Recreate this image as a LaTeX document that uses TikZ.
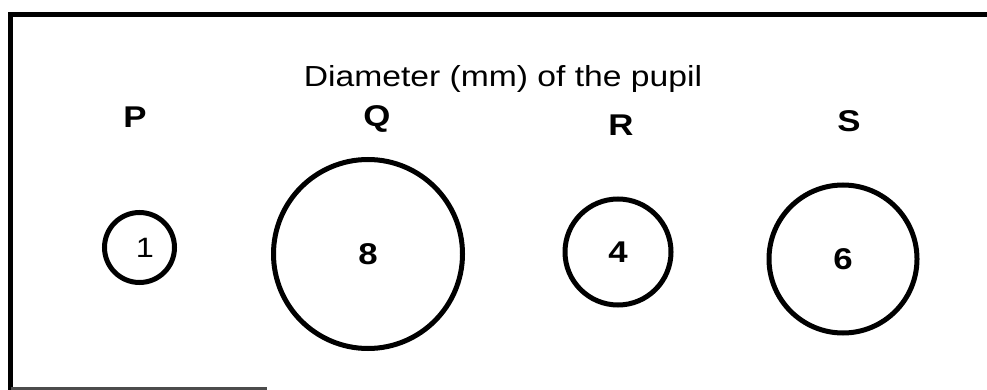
\documentclass[tikz,border=0pt]{standalone}
\usepackage{fontspec}
\setmainfont{Liberation Sans}[FakeStretch=1.16]
\usepackage{tikz}
\tikzset{
pupil/.style={
draw,
circle,
line width=5pt,
inner sep=0pt,
font=\fontsize{30}{36}\selectfont\bfseries
},
letter/.style={
anchor=base,
font=\fontsize{30}{36}\selectfont\bfseries
},
frame/.style={
line width=5pt
}
}

\begin{document}
\begin{tikzpicture}[x=1pt,y=-1pt]
\useasboundingbox (0,0) rectangle (987,390);
\draw[frame](987,15)--(10.5,15)--(10.5,390);
\draw[line width=3pt,black!70](10.5,388.5)--(267,388.5);

\node[anchor=base,font=\fontsize{29}{35}\selectfont](title) at (503,87){Diameter (mm) of the pupil};

\node[pupil,minimum size=70pt,font=\fontsize{28}{34}\selectfont](p) at (139.5,247.5){\hspace*{11pt}1};
\node[pupil,minimum size=189pt](q) at (368,254){8};
\node[pupil,minimum size=106pt](r) at (618,252){4};
\node[pupil,minimum size=148pt](s) at (843,259){6};

\foreach \n/\x/\y/\t in {lp/135/128/P,lq/377/127/Q,lr/621/136/R,ls/849/132/S}
\node[letter](\n) at (\x,\y){\t};
\end{tikzpicture}
\end{document}
